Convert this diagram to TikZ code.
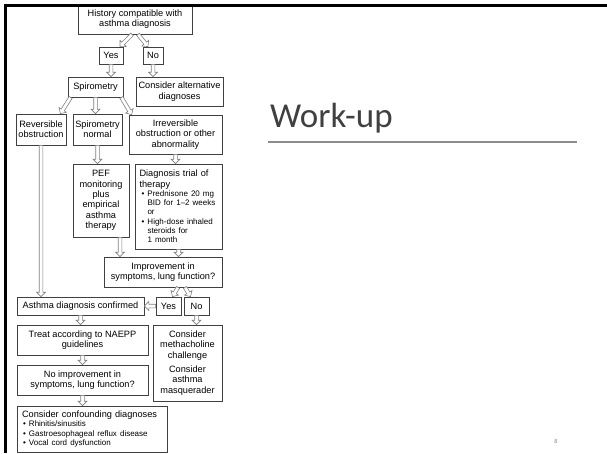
\documentclass[tikz,border=0pt]{standalone}
\usepackage{fontspec}
\setmainfont{Liberation Sans}
\newfontfamily\titlefont{Carlito}
\usetikzlibrary{calc,shapes.arrows}
\setlength{\parindent}{0pt}
\definecolor{titlegray}{HTML}{404040}
\definecolor{linegray}{HTML}{8C8C8C}
\newcommand{\fs}{\fontsize{9.2}{10.4}\selectfont}
\newcommand{\fb}{\fontsize{8}{9.3}\selectfont}
\newcommand{\bl}[1]{\hspace*{#1}\makebox[6pt][l]{\textbullet}}
\newcommand{\hg}{\hspace*{8pt}}
\tikzset{
  box/.style={draw=black!75, line width=0.8pt, inner sep=0pt, align=center, font=\fs},
  harrow/.style={single arrow, draw=black!50, fill=white, line width=0.6pt, inner sep=1.5pt,
     single arrow head extend=2.6pt, single arrow tip angle=90, outer sep=0pt},
}
\newcommand{\harr}[2]{\path let \p1=($(#2)-(#1)$), \n1={veclen(\x1,\y1)}, \n2={atan2(\y1,\x1)} in
  node[harrow, minimum height=\n1, rotate=\n2, anchor=tail] at (#1) {};}
\begin{document}
\begin{tikzpicture}[x=1pt, y=-1pt]
\useasboundingbox (0,0) rectangle (607,453);
% boxes
\node[box, minimum width=114, minimum height=30] (hist) at (135,19) {History compatible with\\asthma diagnosis};
\node[box, minimum width=24, minimum height=17] (yes1) at (111,55.5) {Yes};
\node[box, minimum width=20, minimum height=17] (no1) at (153,55.5) {No};
\node[box, minimum width=55, minimum height=20] (spiro) at (95.5,87) {Spirometry};
\node[box, minimum width=87, minimum height=29] (alt) at (179.5,91.5) {Consider alternative\\diagnoses};
\node[box, minimum width=50, minimum height=31] (rev) at (41,129.5) {Reversible\\obstruction};
\node[box, minimum width=49, minimum height=31] (snorm) at (97.5,129.5) {Spirometry\\normal};
\node[box, minimum width=93, minimum height=39] (irr) at (175.5,134.5) {Irreversible\\obstruction or other\\abnormality};
\node[box, minimum width=56, minimum height=73] (pef) at (101,200.5) {PEF\\monitoring\\plus\\empirical\\asthma\\therapy};
\node[box, minimum width=87, minimum height=85, align=left, text width=78pt] (trial) at (178.5,206.5)
  {\raggedright{\fs Diagnosis trial of\par therapy\par}
   {\fb \bl{2pt}Prednisone 20 mg\par
   \hg BID for 1--2 weeks\par
   \hg or\par
   \bl{2pt}High-dose inhaled\par
   \hg steroids for\par
   \hg 1 month\par}};
\node[box, minimum width=118, minimum height=30] (impr) at (163,272) {Improvement in\\symptoms, lung function?};
\node[box, minimum width=127, minimum height=18] (conf) at (80.5,306) {Asthma diagnosis confirmed};
\node[box, minimum width=25, minimum height=18] (yes2) at (168.5,306) {Yes};
\node[box, minimum width=25, minimum height=18] (no2) at (196.5,306) {No};
\node[box, minimum width=131, minimum height=30] (treat) at (82.5,340) {Treat according to NAEPP\\guidelines};
\node[box, minimum width=69, minimum height=76] (meth) at (187.5,363) {Consider\\methacholine\\challenge\\[4pt]Consider\\asthma\\masquerader};
\node[box, minimum width=131, minimum height=30] (noimp) at (82.5,380) {No improvement in\\symptoms, lung function?};
\node[box, minimum width=150, minimum height=46, align=left, text width=140pt] (confd) at (92,429)
  {\raggedright{\fs Consider confounding diagnoses\par}
   {\fb\bl{1pt}Rhinitis/sinusitis\par
   \bl{1pt}Gastroesophageal reflux disease\par
   \bl{1pt}Vocal cord dysfunction\par}};
% arrow end points
\coordinate (h1) at ($(hist.south)+(-3,0)$);
\coordinate (y1t) at ($(yes1.north)+(9,0)$);
\coordinate (h2) at ($(hist.south)+(3,0)$);
\coordinate (n1t) at ($(no1.north)+(-5,0)$);
\coordinate (s1) at ($(spiro.south west)+(3,0)$);
\coordinate (revt) at ($(rev.north east)+(-6,0)$);
\coordinate (s3) at ($(spiro.south east)+(-2,0)$);
\coordinate (irrt) at ($(irr.north west)+(3,0)$);
\coordinate (pefb) at ($(pef.south)+(19,0)$);
\coordinate (i1) at ($(impr.south)+(15,0)$);
\coordinate (y2t) at ($(yes2.north)+(4,0)$);
\coordinate (i2) at ($(impr.south)+(22,0)$);
\coordinate (n2t) at ($(no2.north)+(-6,0)$);
% arrows
\harr{h1}{y1t}
\harr{h2}{n1t}
\harr{yes1.south}{yes1.south |- spiro.north}
\harr{no1.south}{no1.south |- alt.north}
\harr{s1}{revt}
\harr{spiro.south}{spiro.south |- snorm.north}
\harr{s3}{irrt}
\harr{rev.south}{rev.south |- conf.north}
\harr{snorm.south}{snorm.south |- pef.north}
\harr{irr.south}{irr.south |- trial.north}
\harr{pefb}{pefb |- impr.north}
\harr{trial.south}{trial.south |- impr.north}
\harr{i1}{y2t}
\harr{i2}{n2t}
\harr{yes2.west}{conf.east}
\harr{no2.south}{no2.south |- meth.north}
\harr{conf.south}{conf.south |- treat.north}
\harr{treat.south}{treat.south |- noimp.north}
\harr{noimp.south}{noimp.south |- confd.north}
% frame bands
\fill[black] (4,4) rectangle (607,7);
\fill[black] (4,4) rectangle (7,453);
% title
\node[anchor=base west, inner sep=0pt, font=\titlefont\fontsize{35}{40}\selectfont, text=titlegray] (title) at (270,127) {Work-up};
\draw[line width=2pt, draw=linegray] (268,142) -- (577,142);
\node[inner sep=0pt, font=\titlefont\fontsize{6}{7}\selectfont, text=gray] (pg) at (556,441) {8};
\end{tikzpicture}
\end{document}
